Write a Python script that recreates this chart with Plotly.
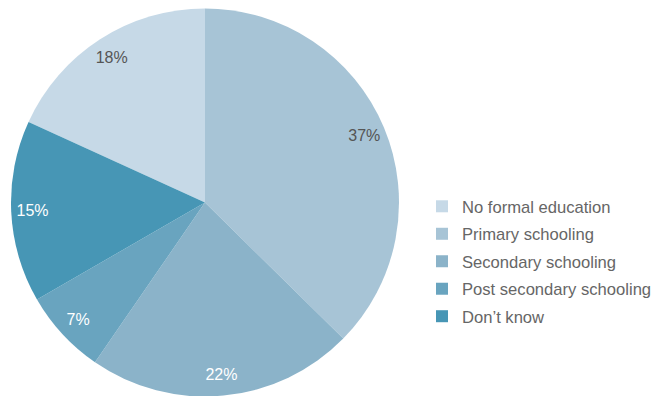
import plotly.graph_objects as go

labels = ["No formal education", "Primary schooling", "Secondary schooling",
          "Post secondary schooling", "Don\u2019t know"]
values = [18, 37, 22, 7, 15]
colors = ["#c6d9e7", "#a7c4d6", "#8bb3c9", "#69a4bf", "#4796b5"]
text_colors = ["#555555", "#555555", "#ffffff", "#ffffff", "#ffffff"]

total = sum(values)
rotation = 360 - values[0] / total * 360
FONT = "Liberation Sans, Arial, sans-serif"
dom = dict(x=[3/659, 391/659], y=[8/396, 397/396 if False else 1.0])

fig = go.Figure()
# main pie (no text)
fig.add_trace(go.Pie(
    labels=labels, values=values,
    marker=dict(colors=colors, line=dict(width=0)),
    sort=False, direction="clockwise", rotation=rotation,
    textinfo="none", domain=dict(x=[3/659, 391/659], y=[7/396, 396/396]),
    showlegend=False, hoverinfo="label+value",
))
# transparent ring carrying the labels near the outer edge
fig.add_trace(go.Pie(
    labels=labels, values=values,
    marker=dict(colors=["rgba(0,0,0,0)"] * len(values), line=dict(width=0)),
    sort=False, direction="clockwise", rotation=rotation, hole=0.78,
    texttemplate="%{value}%", textposition="inside",
    insidetextorientation="horizontal",
    insidetextfont=dict(family=FONT, size=16, color=text_colors),
    domain=dict(x=[3/659, 391/659], y=[7/396, 396/396]),
    showlegend=False, hoverinfo="skip",
))
# legend entries
for i, (lab, col) in enumerate(zip(labels, colors)):
    fig.add_trace(go.Pie(
        labels=[lab], values=[values[i]],
        marker=dict(colors=[col], line=dict(width=0)),
        textinfo="none", domain=dict(x=[0, 0.0001], y=[0, 0.0001]),
        legendgroup=str(i), showlegend=True, hoverinfo="skip",
    ))

fig.update_layout(
    width=659, height=396,
    margin=dict(l=0, r=0, t=0, b=0),
    paper_bgcolor="white",
    showlegend=True,
    legend=dict(
        x=414/659, xanchor="left",
        y=1 - 181/396, yanchor="top",
        font=dict(family=FONT, size=16.6, color="#666666"),
        traceorder="grouped",
        tracegroupgap=2.9,
        itemwidth=30,
    ),
)

fig.write_html("out.html")
